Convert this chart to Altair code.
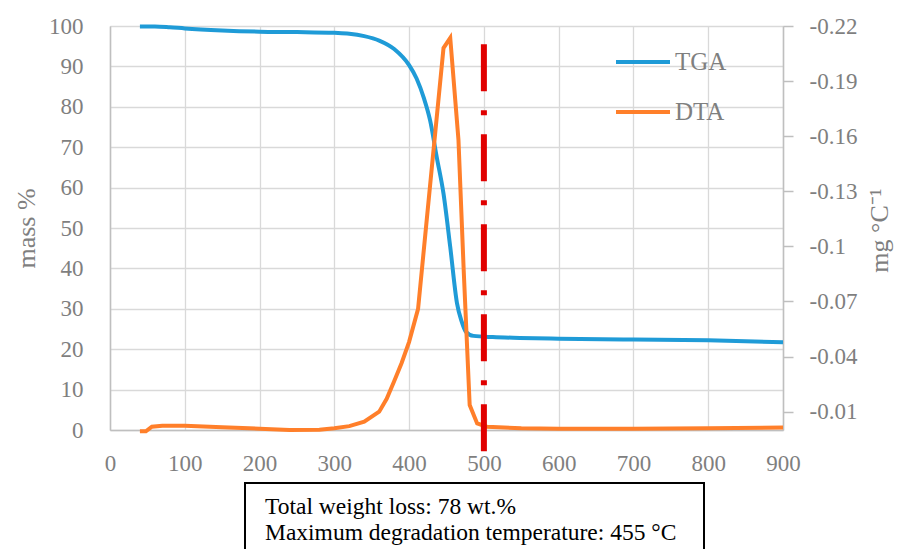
import altair as alt
import pandas as pd

# ---- data ----
tga_temp = [40, 60, 80, 100, 150, 200, 250, 300, 320, 340, 360, 380, 400, 410, 420, 428,
            437, 446, 455, 464, 470, 476, 486, 512, 548, 600, 700, 800, 900]
tga_mass = [99.9, 99.9, 99.7, 99.4, 98.9, 98.6, 98.5, 98.3, 98.1, 97.5, 96.4, 94.3, 90.3, 87.0,
            82.0, 76.7, 67.5, 58.5, 45.3, 31.4, 27.0, 24.3, 23.3, 23.0, 22.8, 22.6, 22.4, 22.2, 21.7]

dta_temp = [40, 48, 56, 70, 100, 150, 200, 240, 280, 300, 320, 340, 360, 370, 380, 390, 400,
            412, 428, 446, 455, 466, 473, 481, 491, 504, 550, 600, 700, 800, 900]
dta_val = [0.0007, 0.0007, -0.0018, -0.0023, -0.0023, -0.0015, -0.0007, 0.0, -0.0002, -0.0009,
           -0.0021, -0.0045, -0.0100, -0.0170, -0.0265, -0.0365, -0.0480, -0.0660, -0.1330,
           -0.2080, -0.2135, -0.1580, -0.0870, -0.0136, -0.0036, -0.0018, -0.0009, -0.0007,
           -0.0007, -0.0009, -0.0013]

series_names = ["TGA", "DTA"]
series_colors = ["#1F9BD7", "#FF7F2A"]

x_ticks = [0, 100, 200, 300, 400, 500, 600, 700, 800, 900]
mass_ticks = [0, 10, 20, 30, 40, 50, 60, 70, 80, 90, 100]
dta_ticks = [-0.01, -0.04, -0.07, -0.10, -0.13, -0.16, -0.19, -0.22]

marker_temp = [500]
marker_top = [95.5]
marker_bottom = [-5.4]

box_lines = ["Total weight loss: 78 wt.%", "Maximum degradation temperature: 455 °C"]

FONT = "Liberation Serif"
GRAY = "#7f7f7f"

tga_df = pd.DataFrame({"T": tga_temp, "mass": tga_mass, "series": "TGA"})
dta_df = pd.DataFrame({"T": dta_temp, "dta": dta_val, "series": "DTA"})
mark_df = pd.DataFrame({"T": marker_temp, "top": marker_top, "bottom": marker_bottom})

x_enc = alt.X("T:Q", scale=alt.Scale(domain=[0, 900], nice=False),
              axis=alt.Axis(values=x_ticks, title=None, grid=True, ticks=False, tickSize=0,
                            labelPadding=22, labelFontSize=23, labelFont=FONT, labelColor=GRAY,
                            labelFlush=False,
                            domainColor="#bfbfbf", domainWidth=1.5,
                            gridColor="#d9d9d9", gridWidth=1.3))

color_enc = alt.Color("series:N", scale=alt.Scale(domain=series_names, range=series_colors),
                      legend=alt.Legend(orient="none", legendX=504, legendY=7, title=None,
                                        symbolType="stroke", symbolSize=2916,
                                        symbolStrokeWidth=4, labelFont=FONT, labelFontSize=25,
                                        labelColor=GRAY, labelOffset=3, rowPadding=8))

tga = alt.Chart(tga_df).mark_line(strokeWidth=4, interpolate="monotone").encode(
    x=x_enc,
    y=alt.Y("mass:Q", scale=alt.Scale(domain=[0, 100], nice=False),
            axis=alt.Axis(values=mass_ticks, title="mass %", orient="left", grid=True,
                          ticks=False, tickSize=0, labelPadding=27, labelFontSize=23,
                          labelFont=FONT, labelColor=GRAY, titleFont=FONT, titleFontSize=26,
                          titleFontWeight="normal", titleColor=GRAY, titleX=-76, titleY=202,
                          titleAngle=270, titleBaseline="alphabetic",
                          domainColor="#bfbfbf", domainWidth=1.5,
                          gridColor="#d9d9d9", gridWidth=1.3)),
    color=color_enc,
)

dta = alt.Chart(dta_df).mark_line(strokeWidth=4).encode(
    x=alt.X("T:Q"),
    y=alt.Y("dta:Q", scale=alt.Scale(domain=[0, -0.22], nice=False, zero=False),
            axis=alt.Axis(values=dta_ticks, title="mg °C⁻¹", orient="right", grid=False,
                          ticks=True, tickSize=10, tickColor="#bfbfbf", tickWidth=1.5,
                          labelPadding=16, labelFontSize=23, labelFont=FONT, labelColor=GRAY,
                          labelExpr="replace(format(datum.value, '.2~f'), '\u2212', '-')",
                          titleFont=FONT, titleFontSize=26, titleFontWeight="normal",
                          titleColor=GRAY, titleX=104, titleY=204, titleAngle=270,
                          titleBaseline="alphabetic",
                          domainColor="#bfbfbf", domainWidth=1.5)),
    color=color_enc,
)

rule = alt.Chart(mark_df).mark_rule(color="#E00000", strokeWidth=6,
                                    strokeDash=[47, 19, 5, 19], strokeCap="butt").encode(
    x=alt.X("T:Q"),
    y=alt.Y("top:Q", scale=alt.Scale(domain=[0, 100], nice=False), axis=None),
    y2="bottom:Q",
)

box = alt.Chart(pd.DataFrame({"k": [0]})).mark_rect(
    fill="white", stroke="black", strokeWidth=2
).encode(x=alt.value(135), x2=alt.value(594), y=alt.value(457), y2=alt.value(560))

text_df = pd.DataFrame({"line": box_lines, "row": [0, 1]})
box_text = alt.Chart(text_df).mark_text(
    font=FONT, fontSize=23.5, color="black", align="left", baseline="alphabetic"
).encode(
    x=alt.value(155), y=alt.value(488), text="line:N",
).transform_filter("datum.row == 0")

box_text2 = alt.Chart(text_df).mark_text(
    font=FONT, fontSize=23.5, color="black", align="left", baseline="alphabetic"
).encode(
    x=alt.value(155), y=alt.value(514), text="line:N",
).transform_filter("datum.row == 1")

chart = alt.layer(tga, dta, rule, box, box_text, box_text2).resolve_scale(
    y="independent"
).properties(
    width=673, height=404,
    autosize=alt.AutoSizeParams(type="none"),
    padding={"left": 102, "top": 18, "right": 113, "bottom": 119},
).configure_view(stroke=None).configure(background="white")

chart.save("out.html", embed_options={"renderer": "svg", "actions": False})
